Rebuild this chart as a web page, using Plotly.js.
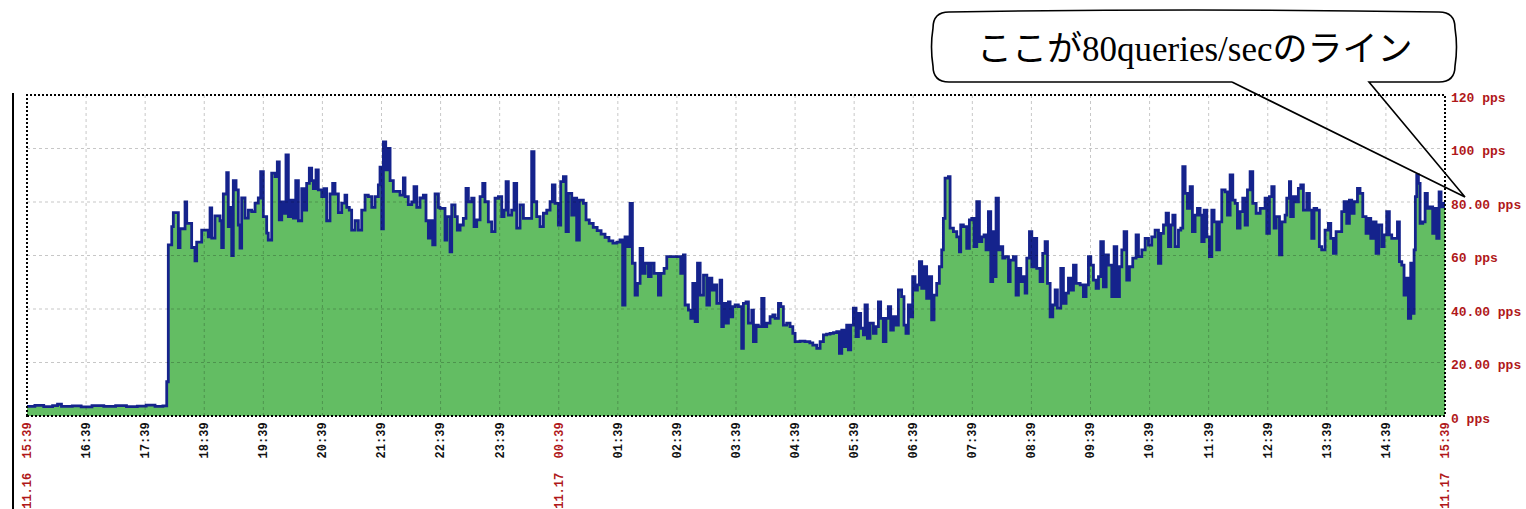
<!DOCTYPE html>
<html>
<head>
<meta charset="utf-8">
<script src="https://cdn.plot.ly/plotly-3.0.1.min.js"></script>
<style>html,body{margin:0;padding:0;background:#fff;}#chart{width:1526px;height:509px;}</style>
</head>
<body>
<div id="chart"></div>
<script>
// minutes elapsed since 11.16 15:39
const minutes = [
0,8,17,26,31,35,46,55,66,78,90,101,112,121,130,138,141.9,143.5,
147,148.6,153.7,155.4,160.5,162.2,167.2,170.6,172.3,177.4,184.1,185.9,187.6,190.9,196,197.7,199.4,202.8,204.4,206.2,207.9,209.5,212.3,214.6,216.3,218,221.4,224.7,228.2,231.6,234.9,237.3,240,243.4,245,248.5,251.9,254.2,256.2,258.7,261,263,265.4,267.8,270.5,272.9,275.6,279,281.3,284,286.7,289.1,290.8,293.5,295.8,299.3,301.6,304.3,307.7,310.4,312.8,316.2,319.6,322.9,324.7,327.3,329.7,333.1,336.5,339.9,343.3,346.6,350.1,353.4,356.8,358.5,360.2,361.9,364.3,366.7,368.7,372,378.8,382.2,383.9,387.2,390.7,393,395.8,399.1,402.5,405.2,407.6,410,412,414.4,417.8,
419.4,424.5,426.2,429.6,431.3,434.7,437,439.8,443.1,445.8,448.2,451.6,454,456.7,460.1,462.8,465.1,468.5,471.9,475.3,478.7,482.1,484.4,486.5,488.8,492.2,494.6,497.3,500.7,504.1,509.1,512.5,514.9,517.6,521,524.4,527.8,531.2,533.5,536.2,539.6,542,544.7,547.4,549.8,553.2,555.5,558.2,560.9,565,567.7,571,575,579,583,587,591,595,599,602.2,604.9,607.3,609.7,612.4,614.8,617.5,619.9,622.6,625.3,627.7,631.1,633.8,636.8,641.2,643.6,647,649.7,661.5,663.9,666.6,668.3,671.7,674.1,676.1,678.5,680.9,683.6,687,690.4,693.1,695.5,697.8,700.5,
703.8,705.5,707.2,709.9,712.3,714,716.7,719.1,722.4,725.8,727.5,730.2,732.6,736,737.7,740.4,742.7,746.1,748.5,751.2,754.6,757.4,759.7,763.1,765.5,768.1,771.5,774.9,777.7,780,785,790,795,798,802,805.4,808.8,812,815.5,819,822.3,825,827.4,829.7,832.4,834.1,836.5,839.2,841.9,844.3,846.6,849.4,851,853.4,856.1,859.5,862.2,864.6,866.9,869.6,872.3,874.7,877.1,879.8,882.5,884.9,888.2,890.6,892.6,895,897.4,899.4,901.8,904.2,906.2,908.6,910.9,913.6,916.3,918.7,921.1,923.8,926.5,928.9,930.6,932.3,935.7,937.4,940.8,944.2,946.9,948.2,950.9,954.3,957,959.4,961.8,964.5,967.2,969.6,971.9,973.9,976.3,978.7,980.7,982.1,984.1,986.5,
988.2,990.9,993.3,996.7,998.4,1001.7,1004.4,1006.8,1009.2,1011.9,1013.6,1015.3,1018,1020.4,1022.7,1025.4,1028.8,1031.5,1033.9,1036.3,1039,1041.7,1044.1,1046.4,1049.8,1052.5,1055.2,1057.6,1060,1062.7,1065.4,1069.5,1072.8,1075.5,1077.9,1080.3,1083,1085.7,1088.1,1090.4,1093.1,1095.9,1098.2,1101.6,1104,1106.7,1109.4,1111.8,1114.1,1116.8,1119.5,1122.9,1126.3,1128.7,1132.1,1135.5,1138.9,1142.2,1145.6,1149,1151.4,1154.1,1156.8,1159.2,1161.5,1163.6,1165.9,1169.3,1171.7,1173.7,1176.1,1178.4,1181.2,1183.5,1186.2,1188.6,1191.3,1193,1195.4,1198.1,1200.8,1203.2,1205.5,1208.2,1210.9,1213.3,1216.7,1219.1,1221.8,1224.5,1226.9,1229.2,1231.9,1234.6,1237,1239.4,1242.1,1244.8,1248.2,1252.3,1257.3,1259,1261.7,1264.1,1266.5,1268.5,1271.9,1274.3,1277.6,1279.3,1282,
1283.3,1286,1288.7,1291.1,1293.5,1296.2,1299.6,1302.3,1304.7,1307,1309.7,1312.4,1314.8,1318.2,1321.6,1324,1326.7,1329.4,1332.8,1335.1,1337.5,1340.2,1342.9,1345.3,1347.7,1351.1,1353.7,1356.5,1359.8,1362.2,1364.6,1367.3,1370,1372.7,1375.8,1378.1,1380.8,1383.5,1385.9,1389.3,1391.7,1393.7,1396.1,1398.4,1400.5,1402.8,1405.2,1407.2,1408.6,1409.9,1411.3,1413,1414.7,1417.4,1419.8,1422.1,1424.8,1427.5,1429.9,1431.6,1434,1436,1438.4,1440
];
// queries per second (pps)
const pps = [
3.6,4.0,3.5,3.9,4.4,3.6,3.8,3.4,3.9,3.6,3.9,3.5,3.7,4.1,3.6,3.8,12.8,64,
70.8,76,63,70,80,72,63,58,65,69.5,67,77.8,66.5,74.8,73,63,83,91,70.8,78,60,88,84.5,71.4,62.8,81.5,74,77,76.4,79.6,81.5,91.3,74.5,68.4,65.8,90.8,89.5,95,73.3,80,75.8,97.6,74.5,80.7,74,88,73,85,77,87,92.7,88,85,92,84.5,82,85,73,83,87,83,76,79.6,82.6,78,77,69.5,73,69.5,77,82.6,82,78,82,86.4,93,70,102.5,92,100,88,84,82.6,89,82,79,80,85.7,78,81.5,82.6,73,66.5,73,64,83,78,
77.6,65.8,74.5,61.4,78.9,74.5,69.5,71.4,73.9,85.1,80.1,81.4,70.8,73.3,82,87,80.1,72.6,68.9,81.4,82,74.5,77,87.6,75.1,77,87,70.2,78.9,73.9,73.9,98.8,80.1,74.5,70.8,75.8,77,80.1,86.4,79.5,71.4,87.6,89.5,68.9,83.2,75.1,81.4,65.8,80.7,79.5,73.3,72,70.5,69.3,68,66.8,65.5,64.6,65,65.8,41.5,67,63.3,79.5,57.1,45.2,49.6,62.7,53.3,57.1,52.1,57.1,53.3,45.2,53.3,55.2,59.6,59.6,53.3,60.2,41.5,39.6,36.5,49.6,35.3,57.1,45.2,52.7,41.5,51.5,47.1,49,42.1,
50.8,33.4,42.1,34.7,42.7,37.1,40.9,41.5,40.9,25.3,42.1,42.7,34.7,39.6,27.8,34,33.4,44,33.4,34.7,37.1,37.8,36.5,42.1,40.9,34,34.7,33.4,30.9,27.8,28,27.8,27.3,26.5,25.3,27.8,30.3,30.6,30.9,31.2,31.5,23.4,32.1,25.9,34,24.7,34,40.3,29.7,38.4,32.8,30.3,41.5,29,34.7,30.9,33.4,42.7,36.5,27.8,36.5,40.9,32.1,37.1,34,47.1,44.6,34,30.9,41.5,37.1,52.1,47.1,49,57.7,47.7,55.8,44,52.1,35.9,45.2,49.6,55.8,62.1,73.9,88.9,89.5,70.2,68.9,67,61.4,71.4,70.8,62.7,73.3,73.9,63.3,80.1,65.2,67,67.7,62.1,76.4,50.2,68.9,52.1,81.4,62.1,
63.3,59,59.6,50.2,58.3,59.6,45.2,55.2,50.2,52.1,45.9,59,68.9,55.8,66.4,55.2,50.2,60.8,65.2,49.6,37.1,41.5,47.1,40.3,55.2,42.1,45.9,51.5,47.1,56.4,49.6,49,44.6,49,59.6,56.4,50.8,47.7,52.1,65.2,48.3,60.2,56.4,44.6,63.3,44.6,55.8,62.1,68.9,50.8,55.8,59,67.7,59.6,62.1,66.4,63.9,67,69.5,57.1,68.3,71.4,75.8,63.3,71.4,75.1,63.3,69.5,70.2,93.2,83.2,77.6,85.7,68.9,75.1,77.6,75.1,65.2,77,67,59.6,77,72.6,62.1,72.6,84.5,83.8,75.1,90.1,80.7,79.5,70.2,76.4,81.4,71.4,84.5,91.3,79.5,75.8,77.6,81.4,68.3,82,85.7,70.2,74.5,60.2,72.6,75.1,81.4,87.6,
74.5,82,80.1,85.1,86.4,77,83.2,77,66.4,77.6,77,63.3,62.1,69.5,72,66.4,60.8,68.9,68.9,76.4,80.1,72,80.7,75.8,80.1,85.1,83.2,74.5,68.3,73.9,66.4,72.6,60.8,71.4,63.3,67.7,76.4,67.7,66.4,66.4,72.6,57.7,56.4,45.2,51.5,36.5,57.1,38.4,62.1,82,90.1,87,72,72.6,83.2,77.6,78.2,68.3,77.6,66.4,83.8,78.2,79.5,78.2
];
const xTickLabels = ['15:39','16:39','17:39','18:39','19:39','20:39','21:39','22:39','23:39','00:39','01:39','02:39','03:39','04:39','05:39','06:39','07:39','08:39','09:39','10:39','11:39','12:39','13:39','14:39','15:39'];
const xTickDates = {0:'11.16', 9:'11.17', 24:'11.17'};
const yTickValues = [0,20,40,60,80,100,120];
const yTickLabels = ['0 pps','20.00 pps','40.00 pps','60 pps','80.00 pps','100 pps','120 pps'];
const calloutText = 'ここが80queries/secのライン';

const RED = '#b0181a';
const xTickVals = xTickLabels.map((_, i) => i * 60);
const xTickText = xTickLabels.map((t, i) => xTickDates[i] !== undefined
  ? '<span style="color:' + RED + '">' + xTickDates[i] + '\u00a0\u00a0' + t + '</span>' : t);

// pixel helpers for decorations (plot area: 27..1445 x, 95..416 y)
const L = 27, R = 1445, T = 95, B = 416;
const pxX = p => ((p - L) / (R - L)).toFixed(5);
const pxY = p => ((B - p) / (B - T)).toFixed(5);

const shapes = [];
xTickVals.slice(1, -1).forEach(v => shapes.push({type:'line', xref:'x', yref:'paper', x0:v, x1:v, y0:0, y1:1,
  line:{color:'rgba(0,0,0,0.22)', width:1, dash:'3px,3px'}, layer:'above'}));
yTickValues.slice(1, -1).forEach(v => shapes.push({type:'line', xref:'paper', yref:'y', x0:0, x1:1, y0:v, y1:v,
  line:{color:'rgba(0,0,0,0.22)', width:1, dash:'3px,3px'}, layer:'above'}));
shapes.push({type:'rect', xref:'paper', yref:'paper', x0:0, x1:1, y0:0, y1:1,
  line:{color:'#000', width:2, dash:'2px,2px'}, fillcolor:'rgba(0,0,0,0)', layer:'above'});
// left black rule
shapes.push({type:'line', xref:'paper', yref:'paper', x0:pxX(13), x1:pxX(13), y0:pxY(509), y1:pxY(93),
  line:{color:'#000', width:2}, layer:'above'});
// callout bubble
const bl = 933, br = 1455, bt = 12, bb = 82, r = 16;
const P = (x, y) => pxX(x) + ',' + pxY(y);
const boxPath = 'M' + P(bl + r, bt) + ' Q' + P((bl + br) / 2, bt - 4) + ' ' + P(br - r, bt) +
  ' Q' + P(br, bt) + ' ' + P(br, bt + r) + ' Q' + P(br + 3, (bt + bb) / 2) + ' ' + P(br, bb - r) +
  ' Q' + P(br, bb) + ' ' + P(br - r, bb) + ' L' + P(bl + r, bb) + ' Q' + P(bl, bb) + ' ' + P(bl, bb - r) +
  ' Q' + P(bl - 3, (bt + bb) / 2) + ' ' + P(bl, bt + r) + ' Q' + P(bl, bt) + ' ' + P(bl + r, bt) + ' Z';
const outlinePath = 'M' + P(1232, bb) + ' L' + P(bl + r, bb) + ' Q' + P(bl, bb) + ' ' + P(bl, bb - r) +
  ' Q' + P(bl - 3, (bt + bb) / 2) + ' ' + P(bl, bt + r) + ' Q' + P(bl, bt) + ' ' + P(bl + r, bt) +
  ' Q' + P((bl + br) / 2, bt - 4) + ' ' + P(br - r, bt) + ' Q' + P(br, bt) + ' ' + P(br, bt + r) +
  ' Q' + P(br + 3, (bt + bb) / 2) + ' ' + P(br, bb - r) + ' Q' + P(br, bb) + ' ' + P(br - r, bb) +
  ' L' + P(1369, bb) + ' L' + P(1465, 197) + ' L' + P(1232, bb);
shapes.push({type:'path', xref:'paper', yref:'paper', path:boxPath, fillcolor:'#fff', line:{width:0}, layer:'above'});
shapes.push({type:'path', xref:'paper', yref:'paper', path:outlinePath, fillcolor:'rgba(0,0,0,0)', line:{color:'#000', width:1.6}, layer:'above'});

const latin = calloutText.match(/[0-9A-Za-z\/]+/)[0];
const calloutHtml = calloutText.replace(latin, '<span style="font-family:Liberation Serif">' + latin + '</span>');

const trace = {
  x: minutes, y: pps, type:'scatter', mode:'lines',
  line:{color:'#15238c', width:2.8, shape:'hv'},
  fill:'tozeroy', fillcolor:'#63bd63', hoverinfo:'skip'
};

const layout = {
  width:1526, height:509,
  margin:{l:L, r:1526 - R, t:T, b:509 - B, pad:0},
  paper_bgcolor:'#fff', plot_bgcolor:'#fff', showlegend:false,
  xaxis:{range:[0, 1440], tickvals:xTickVals, ticktext:xTickText, tickangle:-90,
    tickfont:{family:'Liberation Mono', size:12, color:'#111', weight:'bold'},
    ticks:'', showgrid:false, zeroline:false, showline:false, ticklabelstandoff:3, fixedrange:true},
  yaxis:{range:[0, 120], side:'right', tickvals:yTickValues, ticktext:yTickLabels,
    tickfont:{family:'Liberation Mono', size:13, color:RED, weight:'bold'},
    ticks:'', showgrid:false, zeroline:false, showline:false, ticklabelstandoff:5, ticklabelshift:2, fixedrange:true},
  shapes: shapes,
  annotations:[{xref:'paper', yref:'paper', x:+pxX(1195), y:+pxY(46), xanchor:'center', yanchor:'middle',
    showarrow:false, text:calloutHtml, font:{family:'Noto Sans CJK JP', size:35, color:'#000'}}]
};

Plotly.newPlot('chart', [trace], layout, {displayModeBar:false, staticPlot:true});
</script>
</body>
</html>
